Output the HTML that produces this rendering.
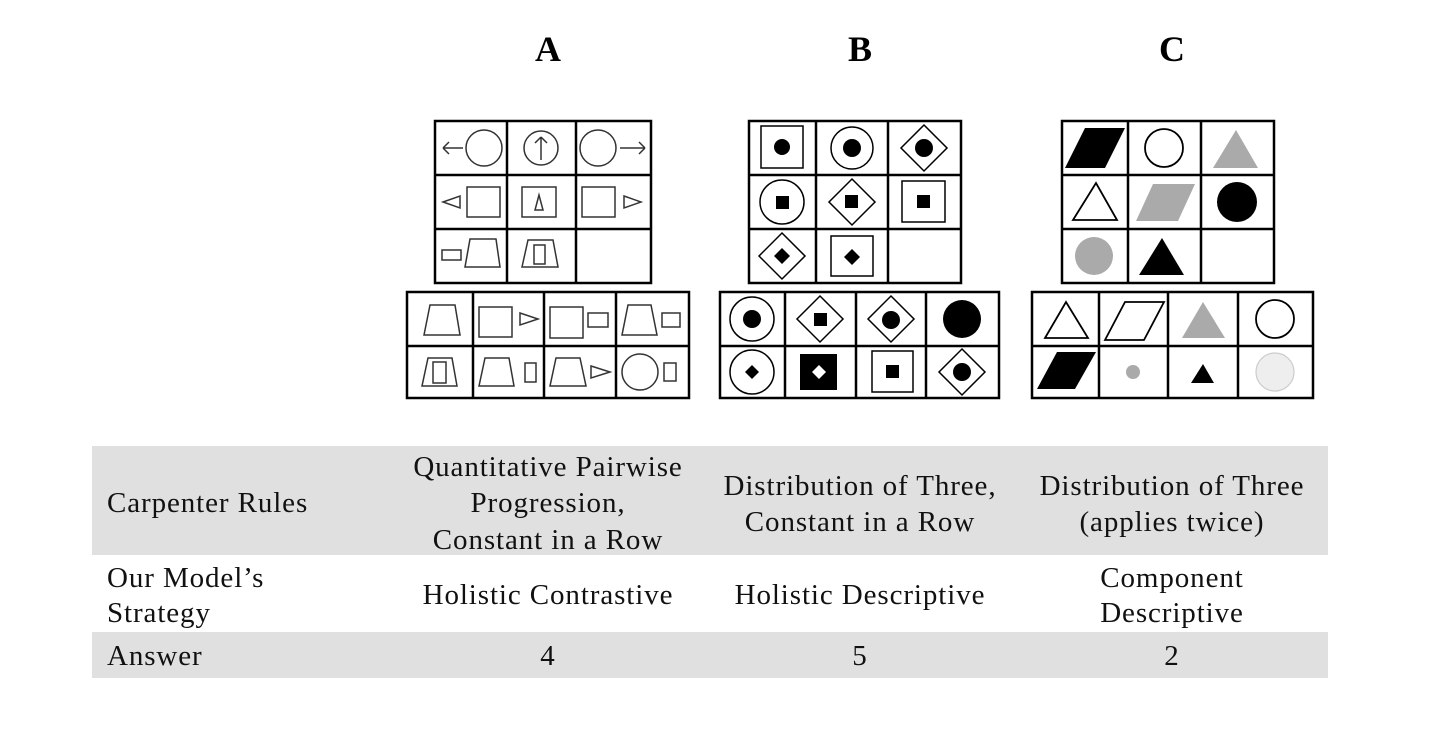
<!DOCTYPE html>
<html><head><meta charset="utf-8"><style>html,body{margin:0;padding:0;background:#fff}svg{display:block}</style></head><body>
<svg width="1446" height="732" viewBox="0 0 1446 732" xmlns="http://www.w3.org/2000/svg" font-family="Liberation Serif, serif">
<rect width="1446" height="732" fill="#fff"/>
<g font-weight="bold" font-size="36" text-anchor="middle" fill="#000">
<text x="548" y="61">A</text><text x="860" y="61">B</text><text x="1172" y="61">C</text>
</g>
<!-- grids -->
<g fill="none" stroke="#000" stroke-width="2.5">
<rect x="435" y="121" width="216" height="162"/><path d="M435 175H651M435 229H651M507 121V283M576 121V283"/>
<rect x="407" y="292" width="282" height="106"/><path d="M407 346H689M473 292V398M544 292V398M616 292V398"/>
<rect x="749" y="121" width="212" height="162"/><path d="M749 175H961M749 229H961M816 121V283M888 121V283"/>
<rect x="720" y="292" width="279" height="106"/><path d="M720 346H999M785 292V398M856 292V398M926 292V398"/>
<rect x="1062" y="121" width="212" height="162"/><path d="M1062 175H1274M1062 229H1274M1128 121V283M1201 121V283"/>
<rect x="1032" y="292" width="281" height="106"/><path d="M1032 346H1313M1099 292V398M1168 292V398M1238 292V398"/>
</g>
<!-- A shapes -->
<g fill="none" stroke="#333" stroke-width="1.5">
<path d="M443 148H463M443 148l6-6M443 148l6 6"/><circle cx="484" cy="148" r="18"/>
<circle cx="541" cy="148" r="17"/><path d="M541 160V137M541 137l-6 6M541 137l6 6"/>
<circle cx="598" cy="148" r="18"/><path d="M620 148H645M645 148l-6-6M645 148l-6 6"/>
<path d="M443 202L460 196V208Z"/><rect x="467" y="187" width="33" height="30"/>
<rect x="522" y="187" width="34" height="30"/><path d="M539 195L535 210H543Z"/>
<rect x="582" y="187" width="33" height="30"/><path d="M624 196L641 202L624 208Z"/>
<rect x="442" y="250" width="19" height="10"/><path d="M465 267L470 239H496L500 267Z"/>
<path d="M522 267L528 240H553L558 267Z"/><rect x="534" y="245" width="11" height="19"/>
<path d="M424 335L430 305H455L460 335Z"/>
<rect x="479" y="307" width="33" height="30"/><path d="M520 313L538 319L520 325Z"/>
<rect x="550" y="307" width="33" height="31"/><rect x="588" y="313" width="20" height="14"/>
<path d="M622 335L628 305H651L657 335Z"/><rect x="662" y="313" width="18" height="14"/>
<path d="M422 386L428 358H452L457 386Z"/><rect x="433" y="362" width="13" height="21"/>
<path d="M479 386L485 358H509L514 386Z"/><rect x="525" y="363" width="11" height="19"/>
<path d="M550 386L556 358H580L586 386Z"/><path d="M591 366L610 372L591 378Z"/>
<circle cx="640" cy="372" r="18"/><rect x="664" y="363" width="12" height="18"/>
</g>
<!-- B shapes -->
<g fill="none" stroke="#000" stroke-width="1.5">
<rect x="761" y="126" width="42" height="42"/><circle cx="852" cy="148" r="21"/><path d="M924 125L947 148L924 171L901 148Z"/>
<circle cx="782" cy="202" r="22"/><path d="M852 179L875 202L852 225L829 202Z"/><rect x="902" y="181" width="43" height="41"/>
<path d="M782 233L805 256L782 279L759 256Z"/><rect x="831" y="236" width="42" height="40"/>
<circle cx="752" cy="319" r="22"/><path d="M820 296L843 319L820 342L797 319Z"/><path d="M891 296L914 319L891 342L868 319Z"/>
<circle cx="752" cy="372" r="22"/><rect x="872" y="351" width="41" height="41"/><path d="M962 349L985 372L962 395L939 372Z"/>
</g>
<g fill="#000">
<circle cx="782" cy="147" r="8"/><circle cx="852" cy="148" r="9"/><circle cx="924" cy="148" r="9"/>
<rect x="776" y="196" width="13" height="13"/><rect x="845" y="195" width="13" height="13"/><rect x="917" y="195" width="13" height="13"/>
<path d="M782 248L790 256L782 264L774 256Z"/><path d="M852 249L860 257L852 265L844 257Z"/>
<circle cx="752" cy="319" r="9"/><rect x="814" y="313" width="13" height="13"/><circle cx="891" cy="320" r="9"/><circle cx="962" cy="319" r="19"/>
<path d="M752 365L759 372L752 379L745 372Z"/><rect x="800" y="354" width="37" height="36"/><rect x="886" y="365" width="13" height="13"/><circle cx="962" cy="372" r="9"/>
</g>
<path d="M819 365L826 372L819 379L812 372Z" fill="#fff"/>
<!-- C shapes -->
<g stroke-width="1.8">
<path d="M1065 168L1085 128H1125L1105 168Z" fill="#000"/>
<circle cx="1164" cy="148" r="19" fill="none" stroke="#000"/>
<path d="M1213 168L1236 130L1258 168Z" fill="#aaa"/>
<path d="M1073 220L1096 183L1117 220Z" fill="none" stroke="#000"/>
<path d="M1136 221L1153 184H1195L1178 221Z" fill="#aaa"/>
<circle cx="1237" cy="202" r="20" fill="#000"/>
<circle cx="1094" cy="256" r="19" fill="#aaa"/>
<path d="M1139 275L1162 238L1184 275Z" fill="#000"/>
<path d="M1045 338L1066 302L1088 338Z" fill="none" stroke="#000"/>
<path d="M1105 340L1125 302H1164L1144 340Z" fill="none" stroke="#000"/>
<path d="M1182 338L1203 302L1225 338Z" fill="#aaa"/>
<circle cx="1275" cy="319" r="19" fill="none" stroke="#000"/>
<path d="M1037 389L1057 352H1096L1075 389Z" fill="#000"/>
<circle cx="1133" cy="372" r="7" fill="#aaa"/>
<path d="M1191 383L1203 364L1214 383Z" fill="#000"/>
<circle cx="1275" cy="372" r="19" fill="#eee" stroke="#ccc" stroke-width="1.2"/>
</g>
<!-- table -->
<rect x="92" y="446" width="1236" height="109" fill="#e0e0e0"/>
<rect x="92" y="632" width="1236" height="46" fill="#e0e0e0"/>
<g font-size="29" fill="#111" letter-spacing="0.9">
<text x="107" y="512">Carpenter Rules</text>
<text x="107" y="587">Our Model’s</text><text x="107" y="622">Strategy</text>
<text x="107" y="665">Answer</text>
</g>
<g font-size="29" fill="#111" text-anchor="middle" letter-spacing="0.9">
<text x="548" y="476">Quantitative Pairwise</text><text x="548" y="512">Progression,</text><text x="548" y="549">Constant in a Row</text>
<text x="860" y="495">Distribution of Three,</text><text x="860" y="531">Constant in a Row</text>
<text x="1172" y="495">Distribution of Three</text><text x="1172" y="531">(applies twice)</text>
<text x="548" y="604">Holistic Contrastive</text>
<text x="860" y="604">Holistic Descriptive</text>
<text x="1172" y="587">Component</text><text x="1172" y="622">Descriptive</text>
<text x="548" y="665">4</text><text x="860" y="665">5</text><text x="1172" y="665">2</text>
</g>
</svg>
</body></html>
